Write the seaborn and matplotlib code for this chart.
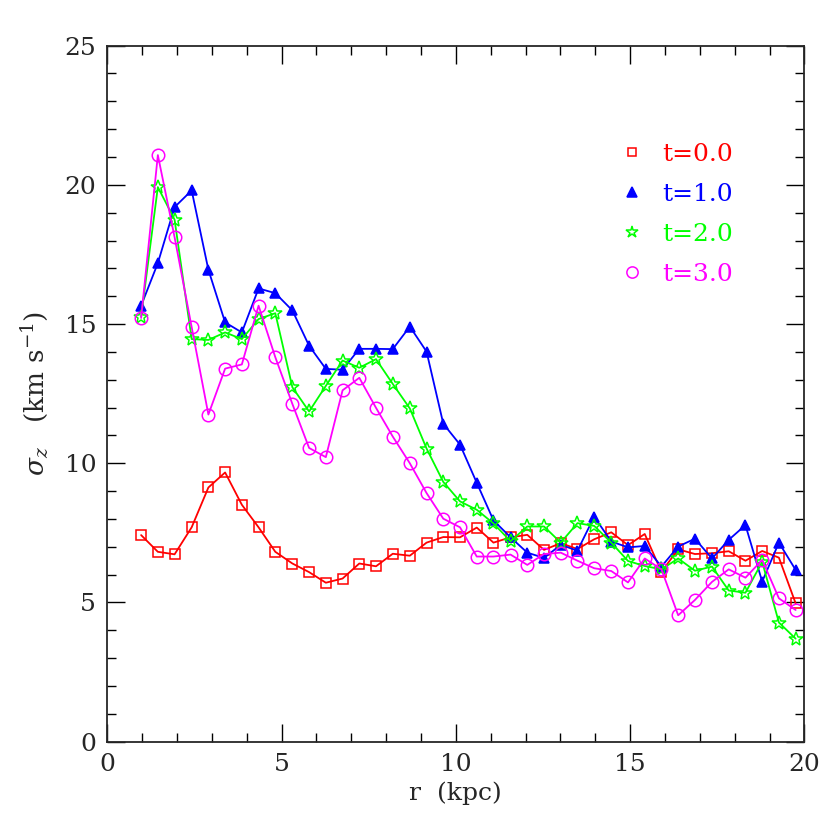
import numpy as np
import pandas as pd
import matplotlib
matplotlib.use("Agg")
import matplotlib.pyplot as plt
from matplotlib.lines import Line2D
from matplotlib.ticker import MultipleLocator
import seaborn as sns

r = [0.97, 1.45, 1.93, 2.42, 2.90, 3.38, 3.86, 4.34, 4.82, 5.31,
     5.79, 6.27, 6.75, 7.23, 7.71, 8.19, 8.68, 9.16, 9.64, 10.12,
     10.60, 11.08, 11.57, 12.05, 12.53, 13.01, 13.49, 13.97, 14.46, 14.94,
     15.42, 15.90, 16.38, 16.86, 17.35, 17.83, 18.31, 18.79, 19.27, 19.75]

sig_t0 = [7.42, 6.82, 6.73, 7.70, 9.13, 9.67, 8.51, 7.70, 6.82, 6.40,
          6.09, 5.71, 5.86, 6.40, 6.30, 6.75, 6.68, 7.15, 7.35, 7.34,
          7.69, 7.15, 7.34, 7.43, 6.89, 7.13, 6.92, 7.27, 7.52, 7.06,
          7.46, 6.10, 6.91, 6.74, 6.77, 6.84, 6.50, 6.85, 6.61, 4.97]
sig_t1 = [15.66, 17.19, 19.20, 19.80, 16.95, 15.06, 14.70, 16.28, 16.11, 15.49,
          14.22, 13.39, 13.36, 14.11, 14.11, 14.10, 14.91, 14.01, 11.42, 10.67,
          9.30, 7.95, 7.34, 6.79, 6.60, 7.07, 6.86, 8.08, 7.19, 6.98,
          7.03, 6.29, 7.01, 7.29, 6.58, 7.25, 7.78, 5.75, 7.15, 6.17]
sig_t2 = [15.27, 19.92, 18.75, 14.46, 14.43, 14.70, 14.46, 15.18, 15.39, 12.73,
          11.86, 12.78, 13.69, 13.43, 13.74, 12.85, 11.97, 10.53, 9.33, 8.63,
          8.33, 7.84, 7.20, 7.73, 7.73, 7.15, 7.85, 7.75, 7.15, 6.49,
          6.31, 6.19, 6.58, 6.14, 6.29, 5.43, 5.35, 6.46, 4.28, 3.70]
sig_t3 = [15.22, 21.07, 18.12, 14.89, 11.75, 13.40, 13.55, 15.66, 13.81, 12.13,
          10.55, 10.22, 12.62, 13.07, 11.99, 10.96, 10.00, 8.93, 8.01, 7.70,
          6.65, 6.65, 6.72, 6.35, 6.74, 6.79, 6.50, 6.23, 6.13, 5.72,
          6.58, 6.19, 4.54, 5.09, 5.74, 6.19, 5.89, 6.53, 5.15, 4.73]

labels = ["t=0.0", "t=1.0", "t=2.0", "t=3.0"]
colors = ["#ff0000", "#0000ff", "#00ff00", "#ff00ff"]
markers = ["s", "^", "*", "o"]
msizes = [6.5, 7.5, 10, 9]
fills = [False, True, False, False]

series = [sig_t0, sig_t1, sig_t2, sig_t3]
df = pd.concat([pd.DataFrame({"r": r, "sigma": s, "t": lab})
                for s, lab in zip(series, labels)], ignore_index=True)

sns.set_style("ticks")
plt.rcParams["font.family"] = ["DejaVu Serif"]
plt.rcParams["mathtext.fontset"] = "dejavuserif"

fig = plt.figure(figsize=(8.3, 8.3), dpi=100)
ax = fig.add_axes([0.1293, 0.1064, 0.8398, 0.8386])

for lab, col, mk, ms, fl in zip(labels, colors, markers, msizes, fills):
    sub = df[df["t"] == lab]
    sns.lineplot(data=sub, x="r", y="sigma", ax=ax, color=col, lw=1.3,
                 marker=mk, markersize=ms,
                 markerfacecolor=col if fl else "none",
                 markeredgecolor=col, markeredgewidth=1.1,
                 legend=False, sort=False, estimator=None)

ax.set_xlim(0, 20)
ax.set_ylim(0, 25)
ax.xaxis.set_major_locator(MultipleLocator(5))
ax.xaxis.set_minor_locator(MultipleLocator(1))
ax.yaxis.set_major_locator(MultipleLocator(5))
ax.yaxis.set_minor_locator(MultipleLocator(1))
ax.tick_params(which="both", direction="in", top=True, right=True,
               labelsize=18, width=1.0, color="black")
ax.tick_params(which="major", length=13, pad=8)
ax.tick_params(which="minor", length=6.5)
for sp in ax.spines.values():
    sp.set_linewidth(1.3)
    sp.set_visible(True)

ax.set_xlabel("r  (kpc)", fontsize=18, labelpad=4)
ax.set_ylabel(r"$\sigma_z$   (km s$^{-1}$)", fontsize=19, labelpad=10)

handles = [Line2D([], [], ls="none", marker=mk, markersize=ms * 0.9,
                  markerfacecolor=col if fl else "none",
                  markeredgecolor=col, markeredgewidth=1.1)
           for col, mk, ms, fl in zip(colors, markers, msizes, fills)]
leg = ax.legend(handles, labels, loc="upper right",
                bbox_to_anchor=(0.93, 0.893), frameon=False, fontsize=18,
                handlelength=1.0, handletextpad=0.7, labelspacing=0.68,
                labelcolor=colors)

fig.savefig("out.png", dpi=100)
